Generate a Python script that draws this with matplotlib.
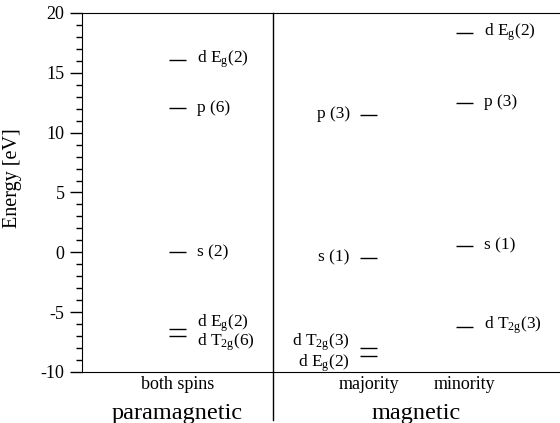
import matplotlib.pyplot as plt
from matplotlib.ticker import MultipleLocator

plt.rcParams['font.family'] = ['Liberation Serif', 'DejaVu Serif']
plt.rcParams['mathtext.fontset'] = 'custom'
plt.rcParams['mathtext.rm'] = 'Liberation Serif'
plt.rcParams['mathtext.it'] = 'Liberation Serif:italic'
plt.rcParams['axes.unicode_minus'] = False

# energy levels (eV) for each column
para_E = [16.1, 12.1, 0.0, -6.4, -7.0]
para_lab = [r'd E$_\mathrm{g}$(2)', 'p (6)', 's (2)', r'd E$_\mathrm{g}$(2)', r'd T$_\mathrm{2g}$(6)']
para_dy = [0, 0, 0, 0.45, -0.5]

maj_E = [11.5, -0.5, -8.0, -8.7]
maj_lab = ['p (3)', 's (1)', r'd T$_\mathrm{2g}$(3)', r'd E$_\mathrm{g}$(2)']
maj_dy = [0.1, 0.1, 0.5, -0.55]

min_E = [18.3, 12.5, 0.5, -6.2]
min_lab = [r'd E$_\mathrm{g}$(2)', 'p (3)', 's (1)', r'd T$_\mathrm{2g}$(3)']

columns = [1, 3, 4]
col_names = ['both spins', 'majority', 'minority']
hw = 0.09

fig = plt.figure(figsize=(5.6, 4.23), dpi=100)
ax = fig.add_axes([0.1464, 0.1206, 0.8536, 0.8487])

ax.hlines(para_E, columns[0] - hw, columns[0] + hw, color='black', lw=1.0)
for e, t, d in zip(para_E, para_lab, para_dy):
    ax.text(columns[0] + hw + 0.11, e + d, t, fontsize=12.5, va='center', ha='left')

ax.hlines(maj_E, columns[1] - hw, columns[1] + hw, color='black', lw=1.0)
for e, t, d in zip(maj_E, maj_lab, maj_dy):
    ax.text(columns[1] - hw - 0.11, e + d, t, fontsize=12.5, va='center', ha='right')

ax.hlines(min_E, columns[2] - hw, columns[2] + hw, color='black', lw=1.0)
for e, t in zip(min_E, min_lab):
    ax.text(columns[2] + hw + 0.12, e + 0.1, t, fontsize=12.5, va='center', ha='left')

# divider between paramagnetic and magnetic panels, running into the label area
ax.plot([2, 2], [20, -14.0], color='black', lw=1.0, clip_on=False)

ax.set_xlim(0, 5)
ax.set_ylim(-10, 20)
ax.set_xticks(columns)
ax.set_xticklabels(col_names, fontsize=13)
ax.tick_params(axis='x', length=0, pad=3)
ax.yaxis.set_major_locator(MultipleLocator(5))
ax.yaxis.set_minor_locator(MultipleLocator(1))
ax.tick_params(axis='y', which='major', direction='out', length=9, width=1, labelsize=13)
ax.tick_params(axis='y', which='minor', direction='out', length=4, width=1)
ax.spines['right'].set_visible(False)
ax.set_ylabel('Energy [eV]', fontsize=14.5)
ax.yaxis.set_label_coords(-0.1255, 0.54)

ax.text(1, -13.45, 'paramagnetic', fontsize=17.5, ha='center', va='center')
ax.text(3.5, -13.45, 'magnetic', fontsize=17.5, ha='center', va='center')

fig.savefig('out.png', dpi=100)
